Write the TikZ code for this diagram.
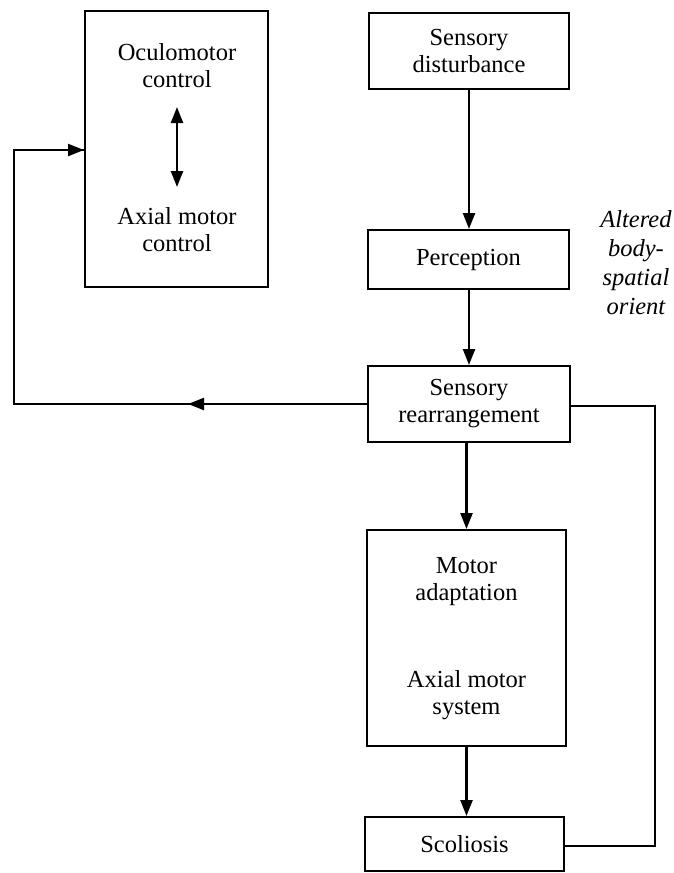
\documentclass[tikz,border=0pt]{standalone}
\usepackage{fontspec}
\setmainfont{Liberation Serif}
\usetikzlibrary{arrows.meta}
\begin{document}
\begin{tikzpicture}[x=1pt,y=-1pt,
  box/.style={draw,line width=2pt,rectangle,inner sep=0pt,align=center,
    font=\fontsize{24.5}{27}\selectfont},
  txt/.style={inner sep=0pt,align=center,font=\fontsize{24.5}{27}\selectfont},
  conn/.style={line width=2.4pt},
  arr/.style={line width=2.4pt,-{Triangle[length=16pt,width=12pt]}}]
\useasboundingbox (0,0) rectangle (674,873);
% boxes
\node[box,minimum width=183pt,minimum height=276pt] (L) at (176.5,149) {};
\node[txt] (oc) at (177,66) {Oculomotor\\control};
\node[txt] (ax) at (177,230) {Axial motor\\control};
\coordinate (ocb) at (177,107);
\coordinate (axt) at (177,187);
\draw[line width=2.4pt,{Triangle[length=16pt,width=12pt]}-{Triangle[length=16pt,width=12pt]}] (ocb) -- (axt);

\node[box,minimum width=200pt,minimum height=76pt] (SD) at (469,51) {Sensory\\disturbance};
\node[box,minimum width=201pt,minimum height=59pt] (P) at (468.5,259.5) {Perception};
\node[box,minimum width=202pt,minimum height=76pt] (SR) at (469,404) {Sensory\\rearrangement};
\node[box,minimum width=199pt,minimum height=216pt] (M) at (466.5,638) {};
\node[txt] (ma) at (466.5,582) {Motor\\adaptation};
\node[txt] (as) at (466.5,695) {Axial motor\\system};
\node[box,minimum width=199pt,minimum height=54pt] (S) at (464.5,844) {Scoliosis};

\node[txt,font=\itshape\fontsize{24.5}{29}\selectfont] (alt) at (636,263) {Altered\\body-\\spatial\\orient};

% connectors
\draw[arr] (SD.south) -- (SD.south |- P.north);
\draw[arr] (SD.south |- P.south) -- (SD.south |- SR.north);
\draw[arr] (M.north |- SR.south) -- (M.north);
\draw[arr] (M.south) -- (M.south |- S.north);

\coordinate (c1) at (14,404);
\coordinate (c2) at (14,150);
\coordinate (mid) at (188,404);
\draw[conn] (SR.west) -- (c1) -- (c2) -- (c2 -| L.west);
\draw[arr] (c2) -- (c2 -| L.west);
\draw[arr] (SR.west) -- (mid);

\coordinate (r1) at (655,406);
\coordinate (r2) at (655,846);
\draw[conn] (SR.east |- r1) -- (r1) -- (r2) -- (S.east |- r2);
\end{tikzpicture}
\end{document}
